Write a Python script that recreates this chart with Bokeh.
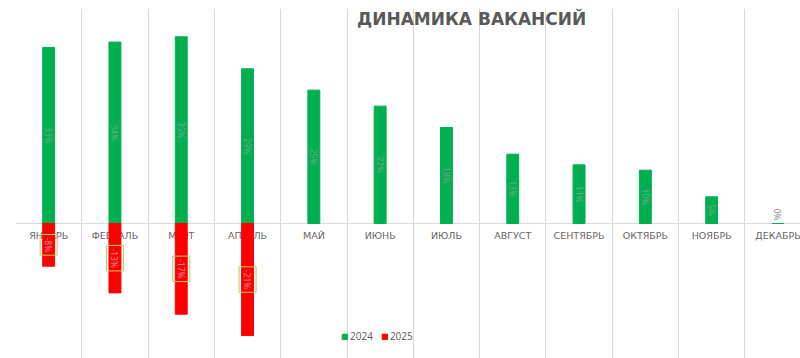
import math
from bokeh.plotting import figure
from bokeh.models import Range1d, FixedTicker, ColumnDataSource, Label, Grid
from bokeh.core.properties import value
from bokeh.embed import file_html
from bokeh.resources import INLINE

months = ["ЯНВАРЬ", "ФЕВРАЛЬ", "МАРТ", "АПРЕЛЬ", "МАЙ", "ИЮНЬ", "ИЮЛЬ",
          "АВГУСТ", "СЕНТЯБРЬ", "ОКТЯБРЬ", "НОЯБРЬ", "ДЕКАБРЬ"]
v2024 = [33, 34, 35, 29, 25, 22, 18, 13, 11, 10, 5, 0]
v2025 = [-8, -13, -17, -21]
title_text = "ДИНАМИКА ВАКАНСИЙ"

GREEN = "#00b050"
RED = "#ff0000"
GREY = "#595959"

xs = [i + 0.5 for i in range(len(months))]

p = figure(width=800, height=358,
           x_range=Range1d(0, 11.84), y_range=Range1d(-25.3, 40.3),
           x_axis_type=None, y_axis_type=None,
           output_backend="svg", toolbar_location=None,
           min_border_left=15, min_border_right=0,
           min_border_top=8, min_border_bottom=0)
p.outline_line_color = None
p.background_fill_color = "white"

p.add_layout(Grid(dimension=0, ticker=FixedTicker(ticks=list(range(len(months) + 1))),
                  grid_line_color="#d9d9d9", grid_line_width=1))
p.add_layout(Grid(dimension=1, ticker=FixedTicker(ticks=[0]),
                  grid_line_color="#d9d9d9", grid_line_width=1))

# category labels (drawn under the bars)
p.text(x=xs, y=[0] * len(months), text=months, y_offset=12,
       text_align="center", text_baseline="middle",
       text_font=value("DejaVu Sans"), text_font_size="9.5px", text_color="#666666")

p.vbar(x=xs, top=v2024, bottom=0, width=0.18, color=GREEN, legend_label="2024")
p.vbar(x=xs[:len(v2025)], top=v2025, bottom=0, width=0.18, color=RED, legend_label="2025")

# green data labels
g_src = ColumnDataSource(dict(
    x=xs,
    y=[v / 2 for v in v2024],
    text=[f"{v}%" for v in v2024],
    align=["center" if v > 0 else "right" for v in v2024],
    yoff=[0 if v > 0 else -3 for v in v2024],
    color=["#74a98c" if v > 0 else "#7f7f7f" for v in v2024],
))
p.text(x="x", y="y", text="text", source=g_src, angle=-math.pi / 2,
       text_align="align", text_baseline="middle", y_offset="yoff",
       text_font=value("Open Sans"), text_font_size="8.5px", text_color="color")

# red data labels with box
r_src = ColumnDataSource(dict(
    x=xs[:len(v2025)],
    y=[v / 2 for v in v2025],
    text=[f"{v}%" for v in v2025],
))
p.text(x="x", y="y", text="text", source=r_src, angle=-math.pi / 2,
       text_align="center", text_baseline="middle",
       text_font=value("Open Sans"), text_font_size="8.5px", text_color="#d89a9a",
       border_line_color="#c4c860", border_line_width=1, padding=3)

p.add_layout(Label(x=6.88, y=38.3, text=title_text, text_align="center",
                   text_baseline="middle", text_font="DejaVu Sans",
                   text_font_style="bold", text_font_size="17px", text_color=GREY))

lg = p.legend[0]
lg.orientation = "horizontal"
lg.location = (326, 15)
lg.background_fill_alpha = 0
lg.border_line_color = None
lg.glyph_width = 7
lg.glyph_height = 7
lg.label_height = 10
lg.label_standoff = 2
lg.spacing = 8
lg.padding = 0
lg.margin = 0
lg.label_text_font = "Open Sans"
lg.label_text_font_size = "10px"
lg.label_text_color = GREY

open("out.html", "w").write(file_html(p, INLINE))
